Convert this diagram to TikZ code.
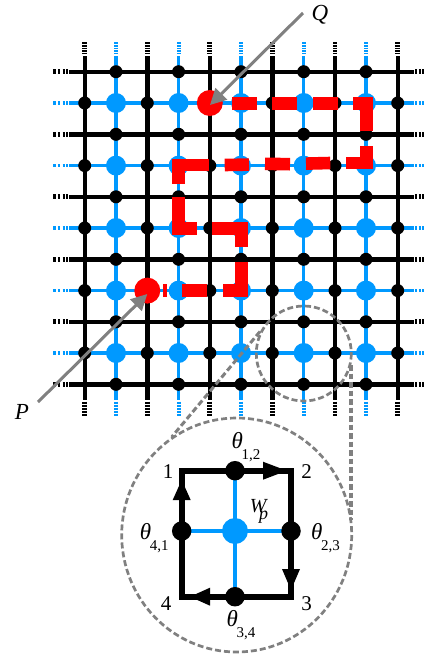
\documentclass[tikz,border=0pt]{standalone}
\usepackage{fontspec}
\setmainfont{Liberation Serif}
\usetikzlibrary{arrows.meta}
\definecolor{gridblue}{RGB}{0,153,255}
\definecolor{arrowgray}{RGB}{128,128,128}
\definecolor{pathred}{RGB}{255,0,0}
\newcommand{\thetalab}[1]{{\fontsize{23}{23}\selectfont\itshape θ}\raisebox{-0.55em}{\fontsize{15}{15}\selectfont\hspace{-0.08em}#1}}
\tikzset{
  blackline/.style={black,line width=4.4pt},
  blueline/.style={gridblue,line width=3.4pt},
  blacktop/.style={black,line width=4.7pt,dash pattern=on 1.6pt off 1pt},
  bluetop/.style={gridblue,line width=4pt,dash pattern=on 1.6pt off 1pt},
  blackbot/.style={black,line width=4.7pt,dash pattern=on 2pt off 1pt},
  bluebot/.style={gridblue,line width=4pt,dash pattern=on 2pt off 1pt},
  blackleft/.style={black,line width=4.7pt,dash pattern=on 2.3pt off 2.2pt on 2.3pt off 2.5pt on 2pt off 1.4pt on 2pt off 9pt},
  blueleft/.style={gridblue,line width=3.6pt,dash pattern=on 2.3pt off 2.2pt on 2.3pt off 2.5pt on 2pt off 1.4pt on 2pt off 9pt},
  blackright/.style={black,line width=4.7pt,dash pattern=on 2pt off 1.7pt},
  blueright/.style={gridblue,line width=3.6pt,dash pattern=on 2pt off 1.7pt},
  blackdot/.style={circle,fill=black,inner sep=0pt,minimum size=13pt},
  bluedot/.style={circle,fill=gridblue,inner sep=0pt,minimum size=20pt},
  reddot/.style={circle,fill=pathred,inner sep=0pt,minimum size=26pt},
  redpath/.style={pathred,line width=12.6pt,line join=miter},
  probe/.style={arrowgray,line width=3pt,-{Triangle[length=16pt,width=16pt]}},
  thindash/.style={arrowgray,line width=2.7pt,dash pattern=on 6pt off 3pt},
  thickdash/.style={arrowgray,line width=4.2pt,dash pattern=on 5.5pt off 3pt},
  loopline/.style={black,line width=6pt,line join=miter},
  loopblue/.style={gridblue,line width=4.5pt},
  looptip/.style={fill=black,draw=none},
  lab/.style={font=\fontsize{21}{21}\selectfont,inner sep=0pt},
  biglab/.style={font=\fontsize{23}{23}\selectfont\itshape,inner sep=0pt},
}
\begin{document}
\begin{tikzpicture}[x=1pt,y=-1pt]
\path[use as bounding box,fill=white] (0,0) rectangle (426,654);
% grid lines
\foreach \y in {71.7,134.3,196.8,259.3,321.8,384.3}{
  \draw[blackleft] (53.3,\y) -- (68.5,\y);
  \draw[blackright] (415,\y) -- (425,\y);
}
\foreach \y in {103,165.6,228,290.6,353}{
  \draw[blueleft] (53.3,\y) -- (68.5,\y);
  \draw[blueright] (415,\y) -- (425,\y);
  \draw[blueline] (69,\y) -- (414,\y);
}
\foreach \x in {116,178.6,241,303.7,366}{
  \draw[bluetop] (\x,42.3) -- (\x,55);
  \draw[bluebot] (\x,401.7) -- (\x,416);
  \draw[blueline] (\x,56) -- (\x,400);
}
\foreach \y in {71.7,134.3,196.8,259.3,321.8,384.3}{
  \draw[blackline] (69,\y) -- (414,\y);
}
\foreach \x in {84.7,147.3,209.8,272.3,335,397.7}{
  \draw[blacktop] (\x,42.3) -- (\x,55);
  \draw[blackbot] (\x,401.7) -- (\x,416);
  \draw[blackline] (\x,56) -- (\x,400);
}
% dots
\foreach \x [count=\i] in {84.7,147.3,209.8,272.3,335,397.7}
  \foreach \y [count=\j] in {103,165.6,228,290.6,353}
    \node[blackdot] (h\i-\j) at (\x,\y) {};
\foreach \x [count=\i] in {116,178.6,241,303.7,366}
  \foreach \y [count=\j] in {71.7,134.3,196.8,259.3,321.8,384.3}
    \node[blackdot] (v\i-\j) at (\x,\y) {};
\foreach \x [count=\i] in {116,178.6,241,303.7,366}
  \foreach \y [count=\j] in {103,165.6,228,290.6,353}
    \node[bluedot] (b\i-\j) at (\x,\y) {};
% red string
\node[reddot] (Qend) at (209.8,103) {};
\node[reddot] (Pend) at (147.3,290.6) {};
\draw[redpath] (232,103.5) -- (257,103.5);
\draw[redpath] (272,103.5) -- (296.7,103.5);
\draw[redpath] (312.7,103.5) -- (337.7,103.5);
\draw[redpath] (353,103.5) -- (366.7,103.5) -- (366.7,131);
\draw[redpath] (366.7,146) -- (366.7,163) -- (346,163);
\draw[redpath] (330.3,163) -- (306,163.6);
\draw[redpath] (290,164.2) -- (265,163.8);
\draw[redpath] (249,164.6) -- (224.7,165);
\draw[redpath] (209,165) -- (178.4,165) -- (178.4,183.7);
\draw[redpath] (178.4,197) -- (178.4,228.3) -- (197,228.3);
\draw[redpath] (212,228.3) -- (241.5,228.3) -- (241.5,247);
\draw[redpath] (241.5,261.7) -- (241.5,290.5) -- (223,290.5);
\draw[redpath] (207.3,290.5) -- (182,290.5);
\draw[redpath] (163,290.5) -- (167,290.5);
% probes
\coordinate (Qstart) at (303,13);
\coordinate (Qtip) at (210,105);
\coordinate (Pstart) at (38,402);
\coordinate (Ptip) at (147.3,294);
\draw[probe] (Qstart) -- (Qtip);
\draw[probe] (Pstart) -- (Ptip);
\node[biglab] (Q) at (320,15) {Q};
\node[biglab] (P) at (22,412) {P};
% inset
\draw[thindash] (303.8,353.5) circle[radius=47.5];
\draw[thindash] (236.7,535) ellipse[x radius=115,y radius=117];
\coordinate (a1) at (260,331.5);
\coordinate (a2) at (171.7,437);
\coordinate (b1) at (351.3,365);
\coordinate (b2) at (351.3,520);
\draw[thindash,line width=3pt] (a1) -- (a2);
\draw[thickdash] (b1) -- (b2);
\coordinate (c1) at (181.7,470.7);
\coordinate (c2) at (291,470.7);
\coordinate (c3) at (291,596.7);
\coordinate (c4) at (181.7,596.7);
\coordinate (m12) at (235,470.7);
\coordinate (m23) at (291,531);
\coordinate (m34) at (235,596.7);
\coordinate (m41) at (181.7,531);
\draw[loopblue] (m12) -- (m34);
\draw[loopblue] (m41) -- (m23);
\draw[loopline] (c1) -- (c2) -- (c3) -- (c4) -- cycle;
\fill[looptip] (286.7,470.7) -- (263,461.7) -- (263,479.7) -- cycle;
\fill[looptip] (291,590) -- (282,569) -- (300,569) -- cycle;
\fill[looptip] (190,596.7) -- (210,587.7) -- (210,605.7) -- cycle;
\fill[looptip] (181.7,480) -- (172.7,500) -- (190.7,500) -- cycle;
\node[circle,fill=black,inner sep=0pt,minimum size=19.5pt] (t12) at (m12) {};
\node[circle,fill=black,inner sep=0pt,minimum size=19.5pt] (t23) at (m23) {};
\node[circle,fill=black,inner sep=0pt,minimum size=19.5pt] (t34) at (m34) {};
\node[circle,fill=black,inner sep=0pt,minimum size=19.5pt] (t41) at (m41) {};
\node[circle,fill=gridblue,inner sep=0pt,minimum size=26pt] (wp) at (235,531) {};
\node[lab] (n1) at (168,472) {1};
\node[lab] (n2) at (306.7,472) {2};
\node[lab] (n3) at (306.7,604) {3};
\node[lab] (n4) at (166,604) {4};
\node[lab] (l12) at (246,447) {\thetalab{1,2}};
\node[lab] (l23) at (325.5,538) {\thetalab{2,3}};
\node[lab] (l41) at (154.3,538) {\thetalab{4,1}};
\node[lab] (l34) at (241,625) {\thetalab{3,4}};
\node[lab] (wlab) at (259,511.5) {\fontsize{20}{20}\selectfont\itshape W\raisebox{-7.5pt}{\hspace{-7.5pt}\fontsize{18}{18}\selectfont p}};
\end{tikzpicture}
\end{document}
